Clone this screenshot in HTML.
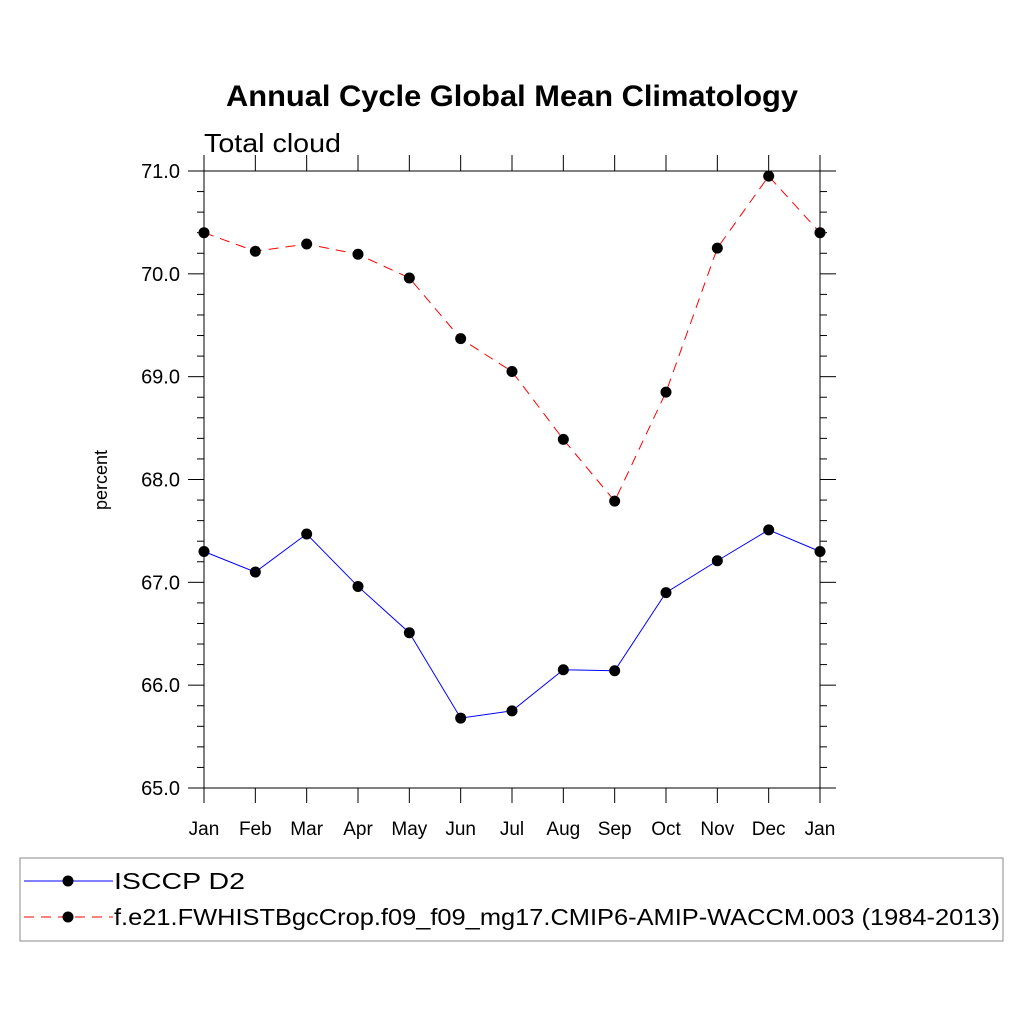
<!DOCTYPE html>
<html><head><meta charset="utf-8"><style>body{margin:0;background:#fff}svg{display:block}text{font-family:"Liberation Sans",sans-serif}</style></head>
<body>
<svg id="c" width="1024" height="1024">
<text x="226" y="106" textLength="572" lengthAdjust="spacingAndGlyphs" font-size="30" font-weight="bold">Annual Cycle Global Mean Climatology</text>
<text x="204" y="152" textLength="137" lengthAdjust="spacingAndGlyphs" font-size="26">Total cloud</text>
<text transform="translate(107,480) rotate(-90)" text-anchor="middle" font-size="18">percent</text>
<g id="axes"></g><g id="series"></g>
<rect x="20" y="858" width="983" height="83" fill="none" stroke="#888" stroke-width="1"/>
<g>
<line x1="24" y1="881" x2="113" y2="881" stroke="#00f" stroke-width="1"/><circle cx="68" cy="881" r="5.5"/>
<text x="114" y="889" textLength="131" lengthAdjust="spacingAndGlyphs" font-size="23">ISCCP D2</text></g>
<g>
<line x1="24" y1="917" x2="113" y2="917" stroke="#f00" stroke-dasharray="10,7" stroke-width="1"/><circle cx="68" cy="917" r="5.5"/>
<text x="114" y="925" textLength="886" lengthAdjust="spacingAndGlyphs" font-size="23">f.e21.FWHISTBgcCrop.f09_f09_mg17.CMIP6-AMIP-WACCM.003 (1984-2013)</text></g>
</svg>
<script>
const months=["Jan","Feb","Mar","Apr","May","Jun","Jul","Aug","Sep","Oct","Nov","Dec","Jan"];
const isccp=[67.3,67.1,67.47,66.96,66.51,65.68,65.75,66.15,66.14,66.9,67.21,67.51,67.3];
const model=[70.4,70.22,70.29,70.19,69.96,69.37,69.05,68.39,67.79,68.85,70.25,70.95,70.4];
const yTicks=[65,66,67,68,69,70,71];
const NS="http://www.w3.org/2000/svg";
const X=i=>204+i*(820-204)/12, Y=v=>788-(v-65)*(788-171)/6;
function mk(p,t,a){const e=document.createElementNS(NS,t);for(const k in a)e.setAttribute(k,a[k]);p.appendChild(e);return e;}
const ax=document.getElementById('axes'), se=document.getElementById('series');
const st={stroke:"#000","stroke-width":1};
mk(ax,'line',Object.assign({x1:188,x2:835,y1:171,y2:171},st));
mk(ax,'line',Object.assign({x1:188,x2:835,y1:788,y2:788},st));
mk(ax,'line',Object.assign({x1:204,x2:204,y1:155,y2:803},st));
mk(ax,'line',Object.assign({x1:820,x2:820,y1:155,y2:803},st));
months.forEach((m,i)=>{
 mk(ax,'line',Object.assign({x1:X(i),x2:X(i),y1:155,y2:171},st));
 const tk=mk(ax,'line',Object.assign({x1:X(i),x2:X(i),y1:788,y2:803},st));
 
 const t=mk(ax,'text',{x:X(i),y:835,"text-anchor":"middle","font-size":19});t.textContent=m;
 
});
for(let v=65;v<=71.001;v+=0.2){
 const maj=Math.abs(v-Math.round(v))<0.01, L=maj?16:7;
 mk(ax,'line',Object.assign({x1:204-L,x2:204,y1:Y(v),y2:Y(v)},st));
 mk(ax,'line',Object.assign({x1:820,x2:820+L,y1:Y(v),y2:Y(v)},st));
}
yTicks.forEach(v=>{const t=mk(ax,'text',{x:180,y:Y(v)+7,"text-anchor":"end","font-size":20});t.textContent=v.toFixed(1);
 });
function series(d,col,dash,name){
 const p=mk(se,'polyline',{points:d.map((v,i)=>X(i)+","+Y(v)).join(" "),fill:"none",stroke:col,"stroke-width":1,"stroke-dasharray":dash});
 
 d.forEach((v,i)=>{const c=mk(se,'circle',{cx:X(i),cy:Y(v),r:5.5});
  });
}
series(isccp,"#00f","none","isccp");
series(model,"#f00","10,7","model");
</script>
</body></html>
